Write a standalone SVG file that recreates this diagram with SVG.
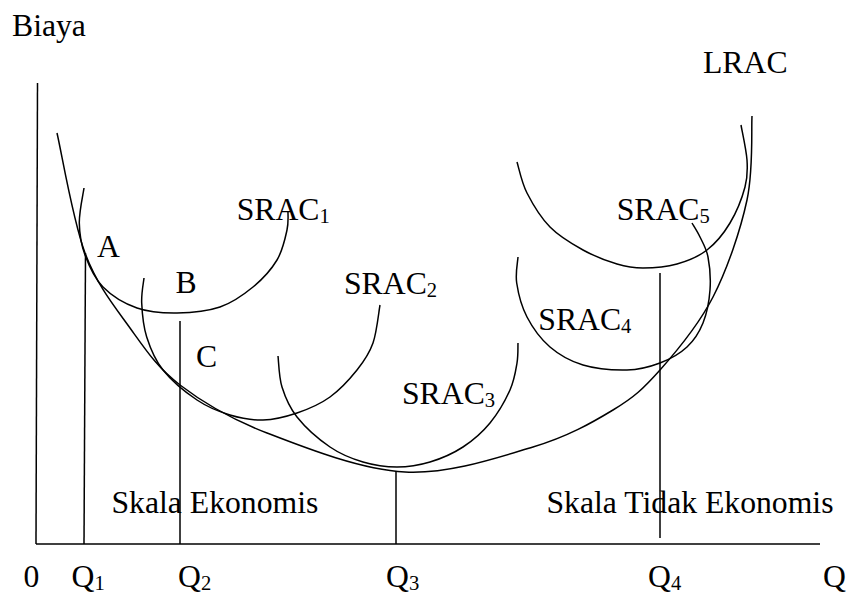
<svg xmlns="http://www.w3.org/2000/svg" width="848" height="597" viewBox="0 0 848 597">
<style>
  .ln { fill: none; stroke: #000; stroke-width: 1.5; }
  .t { font-family: "Liberation Serif", "Times New Roman", serif; font-size: 31.7px; fill: #000; }
  .sub { font-size: 20.6px; }
</style>
<rect width="848" height="597" fill="#fff"/>
<g id="axes">
  <line class="ln" x1="37.5" y1="83" x2="36" y2="544"/>
  <line class="ln" x1="36" y1="544" x2="820" y2="544"/>
</g>
<g id="guides">
  <line class="ln" x1="85.5" y1="253" x2="84" y2="544"/>
  <line class="ln" x1="180" y1="321" x2="180" y2="544"/>
  <line class="ln" x1="396" y1="472" x2="396" y2="544"/>
  <line class="ln" x1="660" y1="273" x2="660" y2="538"/>
</g>
<g id="LRAC">
  <path class="ln" d="M57,133 C61.7,153 72.8,220.5 85,253 C97.2,285.5 114.2,306 130,328 C145.8,350 157.2,367.5 180,385 C202.8,402.5 229.5,418.5 267,433 C304.5,447.5 360.7,469.7 405,472 C449.3,474.3 498.3,457.3 533,447 C567.7,436.7 591.8,422.8 613,410 C634.2,397.2 643.3,388.8 660,370 C676.7,351.2 698.5,325.3 713,297 C727.5,268.7 740.5,230.2 747,200 C753.5,169.8 751.2,130 752,116"/>
</g>
<g id="SRAC1">
  <path class="ln" d="M84,188 C83.2,193.8 79.1,211.8 79.3,223 C79.5,234.2 81.05,244.3 85,255 C88.95,265.7 94.3,278.2 103,287 C111.7,295.8 124.7,303.7 137,308 C149.3,312.3 163.2,313.2 177,313 C190.8,312.8 207.3,311.3 220,307 C232.7,302.7 243.5,294.8 253,287 C262.5,279.2 271.3,269.5 277,260 C282.7,250.5 285.2,238.2 287,230 C288.8,221.8 287.8,214.2 288,211"/>
</g>
<g id="SRAC2">
  <path class="ln" d="M144,278 C143.6,282.2 141.25,293.2 141.7,303 C142.15,312.8 143.15,325.8 146.7,337 C150.25,348.2 154.6,359.5 163,370 C171.4,380.5 185.8,392.5 197,400 C208.2,407.5 219,411.7 230,415 C241,418.3 251.8,420.3 263,420 C274.2,419.7 285.8,416.8 297,413 C308.2,409.2 320,404.2 330,397 C340,389.8 349.8,379 357,370 C364.2,361 369.2,353.8 373,343 C376.8,332.2 378.8,311.3 380,305"/>
</g>
<g id="SRAC3">
  <path class="ln" d="M278,356 C278.7,361.2 278.8,376.8 282,387 C285.2,397.2 289,407 297,417 C305,427 319,439.5 330,447 C341,454.5 351.8,458.7 363,462 C374.2,465.3 385.8,467 397,467 C408.2,467 419,465.3 430,462 C441,458.7 453,453.5 463,447 C473,440.5 482.2,432.5 490,423 C497.8,413.5 505.5,400 510,390 C514.5,380 515.7,370.8 517,363 C518.3,355.2 517.8,346.3 518,343"/>
</g>
<g id="SRAC4">
  <path class="ln" d="M518,257 C517.8,261.3 515.2,273 516.7,283 C518.2,293 521.45,306.3 527,317 C532.55,327.7 540.7,339 550,347 C559.3,355 570.2,361.2 583,365 C595.8,368.8 614.2,370.3 627,370 C639.8,369.7 650,366.8 660,363 C670,359.2 679.8,353.7 687,347 C694.2,340.3 699.2,332.5 703,323 C706.8,313.5 709.2,301 710,290 C710.8,279 709.7,265.8 708,257 C706.3,248.2 702.7,242.7 700,237 C697.3,231.3 693.3,225.3 692,223"/>
</g>
<g id="SRAC5">
  <path class="ln" d="M517,162 C518.7,167.2 521.5,182.2 527,193 C532.5,203.8 540.7,217.5 550,227 C559.3,236.5 571.8,243.8 583,250 C594.2,256.2 607,261 617,264 C627,267 633,268 643,268 C653,268 666.3,267 677,264 C687.7,261 698.2,256.8 707,250 C715.8,243.2 723.7,233.5 730,223 C736.3,212.5 742.2,197.5 745,187 C747.8,176.5 747.7,170.3 747,160 C746.3,149.7 742,130.8 741,125"/>
</g>
<g id="labels">
  <text class="t" x="12" y="35.7">Biaya</text>
  <text class="t" x="703" y="72.7">LRAC</text>
  <text class="t" x="236.7" y="220">SRAC<tspan class="sub" dy="3">1</tspan></text>
  <text class="t" x="344" y="294">SRAC<tspan class="sub" dy="3">2</tspan></text>
  <text class="t" x="402" y="404">SRAC<tspan class="sub" dy="3">3</tspan></text>
  <text class="t" x="538.3" y="330">SRAC<tspan class="sub" dy="3">4</tspan></text>
  <text class="t" x="616.7" y="220">SRAC<tspan class="sub" dy="3">5</tspan></text>
  <text class="t" x="97" y="257">A</text>
  <text class="t" x="175.5" y="292.7">B</text>
  <text class="t" x="196" y="366.7">C</text>
  <text class="t" x="111.5" y="513.3">Skala Ekonomis</text>
  <text class="t" x="546.5" y="513.3">Skala Tidak Ekonomis</text>
  <text class="t" x="23.5" y="587.3">0</text>
  <text class="t" x="71.5" y="587.3">Q<tspan class="sub" dy="3">1</tspan></text>
  <text class="t" x="178" y="587.3">Q<tspan class="sub" dy="3">2</tspan></text>
  <text class="t" x="386" y="587.3">Q<tspan class="sub" dy="3">3</tspan></text>
  <text class="t" x="648" y="587.3">Q<tspan class="sub" dy="3">4</tspan></text>
  <text class="t" x="823" y="587.3">Q</text>
</g>
</svg>
